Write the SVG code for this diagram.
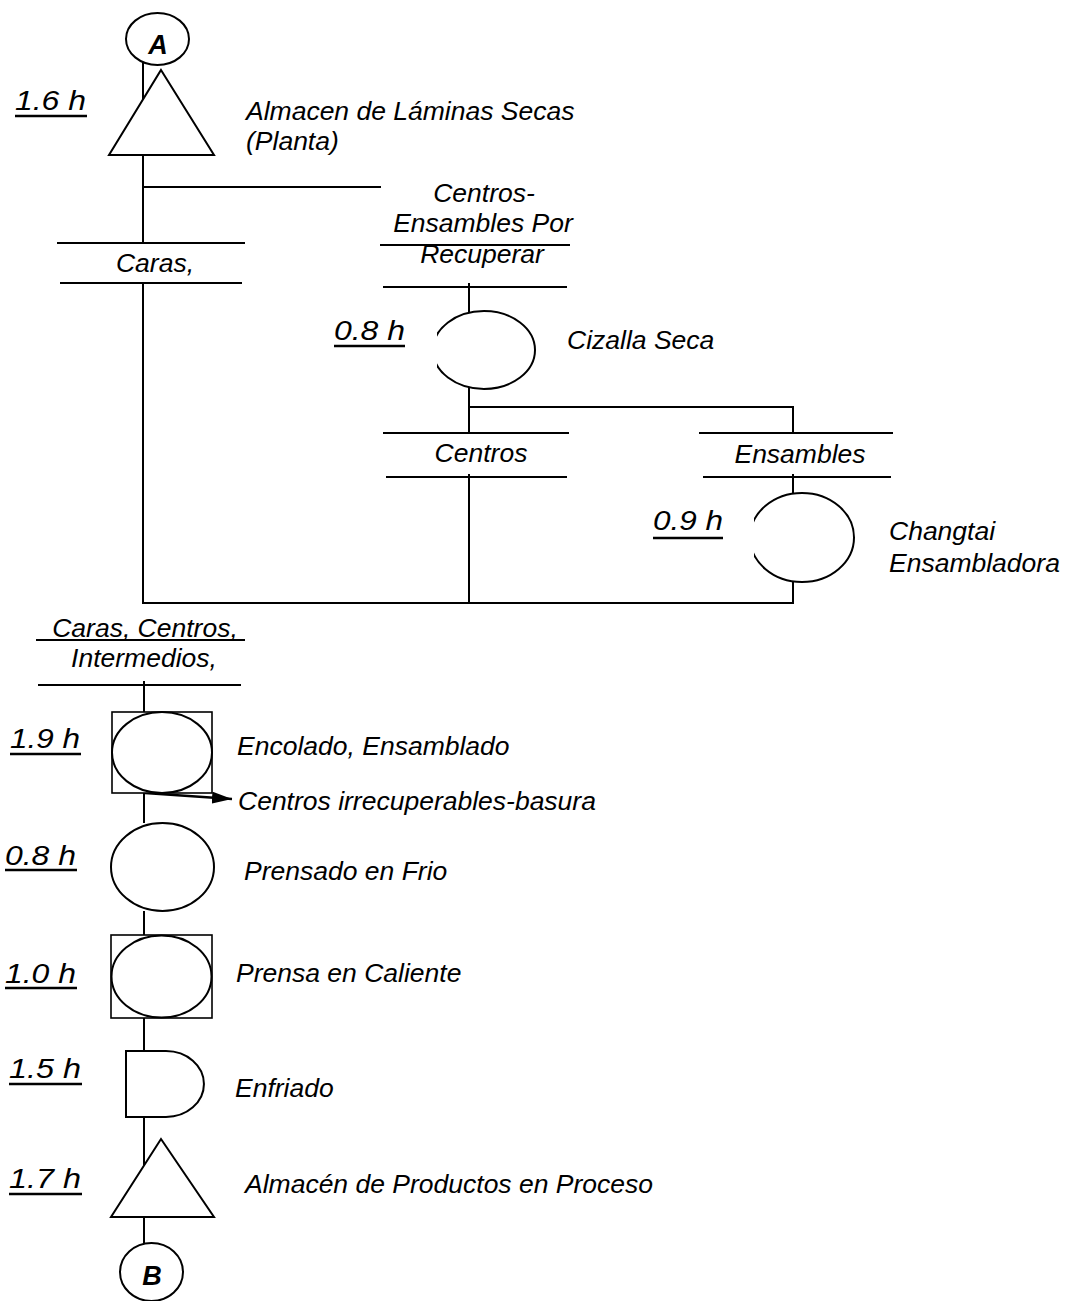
<svg xmlns="http://www.w3.org/2000/svg" width="1065" height="1301" viewBox="0 0 1065 1301">
<style>
.bg{fill:#fff}
.ln{stroke:#000;stroke-width:2;fill:none}
.sym{stroke:#000;stroke-width:2;fill:#fff}
.box{stroke:#000;stroke-width:1.6;fill:#fff}
.t{font-family:"Liberation Sans",Arial,sans-serif;font-style:italic;font-size:26.5px;fill:#000}
.c{text-anchor:middle}
.tm{font-family:"Liberation Sans",Arial,sans-serif;font-style:italic;font-size:28px;fill:#000}
.ul{stroke:#000;stroke-width:2.6}
.lt{font-family:"Liberation Sans",Arial,sans-serif;font-style:italic;font-weight:bold;font-size:27px;fill:#000;text-anchor:middle}
</style>
<defs>
<marker id="arr" markerUnits="userSpaceOnUse" markerWidth="20" markerHeight="12" refX="20" refY="6" viewBox="0 0 20 12" orient="auto">
<path d="M0,0 L20,6 L0,12 z" fill="#000"/>
</marker>
<clipPath id="clipCiz"><rect x="437" y="300" width="120" height="100"/></clipPath>
<clipPath id="clipCha"><rect x="754" y="480" width="120" height="110"/></clipPath>
</defs>
<rect class="bg" x="0" y="0" width="1065" height="1301"/>

<g id="connectors" class="ln">
<line x1="143" y1="62" x2="143" y2="99"/>
<line x1="143" y1="155" x2="143" y2="243"/>
<line x1="143" y1="187" x2="381" y2="187"/>
<line x1="143" y1="283" x2="143" y2="604"/>
<line x1="143" y1="603" x2="794" y2="603"/>
<line x1="469" y1="283" x2="469" y2="313"/>
<line x1="469" y1="387" x2="469" y2="433"/>
<line x1="468" y1="407" x2="794" y2="407"/>
<line x1="793" y1="406" x2="793" y2="433"/>
<line x1="469" y1="474" x2="469" y2="603"/>
<line x1="793" y1="474" x2="793" y2="494"/>
<line x1="793" y1="581" x2="793" y2="604"/>
<line x1="144" y1="681" x2="144" y2="712"/>
<line x1="144" y1="793" x2="144" y2="823"/>
<line x1="144" y1="911" x2="144" y2="935"/>
<line x1="144" y1="1018" x2="144" y2="1051"/>
<line x1="144" y1="1117" x2="144" y2="1165"/>
<line x1="144" y1="1217" x2="144" y2="1243"/>
<line x1="145" y1="793" x2="232" y2="799" stroke-width="2.4" marker-end="url(#arr)"/>
</g>

<g id="nodeA">
<ellipse class="sym" cx="157.5" cy="39" rx="31.5" ry="26"/>
<text class="lt" x="158" y="54">A</text>
</g>

<g id="almacenLaminas">
<polygon class="sym" points="161,70 214,155 109,155"/>
<text class="tm" x="15" y="110" textLength="71" lengthAdjust="spacingAndGlyphs">1.6 h</text>
<line class="ul" x1="15" y1="116" x2="87" y2="116"/>
<text class="t" x="246" y="120">Almacen de Láminas Secas</text>
<text class="t" x="246" y="150">(Planta)</text>
</g>

<g id="carasBar">
<line class="ln" x1="57" y1="243" x2="245" y2="243"/>
<line class="ln" x1="60" y1="283" x2="242" y2="283"/>
<text class="t c" x="155" y="272">Caras,</text>
</g>

<g id="centrosEnsamblesBar">
<text class="t c" x="484" y="202">Centros-</text>
<text class="t c" x="483" y="232">Ensambles Por</text>
<line class="ln" x1="380" y1="245" x2="570" y2="245"/>
<text class="t c" x="482" y="263">Recuperar</text>
<line class="ln" x1="383" y1="287" x2="567" y2="287"/>
</g>

<g id="cizallaSeca">
<ellipse class="sym" cx="484" cy="350" rx="51" ry="39" clip-path="url(#clipCiz)"/>
<text class="tm" x="334" y="340" textLength="71" lengthAdjust="spacingAndGlyphs">0.8 h</text>
<line class="ul" x1="334" y1="346" x2="405" y2="346"/>
<text class="t" x="567" y="349">Cizalla Seca</text>
</g>

<g id="centrosBar">
<line class="ln" x1="383" y1="433" x2="569" y2="433"/>
<line class="ln" x1="386" y1="477" x2="567" y2="477"/>
<text class="t c" x="481" y="462">Centros</text>
</g>

<g id="ensamblesBar">
<line class="ln" x1="699" y1="433" x2="893" y2="433"/>
<line class="ln" x1="703" y1="477" x2="891" y2="477"/>
<text class="t c" x="800" y="463">Ensambles</text>
</g>

<g id="changtai">
<ellipse class="sym" cx="802" cy="537.5" rx="52" ry="44.5" clip-path="url(#clipCha)"/>
<text class="tm" x="653" y="530" textLength="70" lengthAdjust="spacingAndGlyphs">0.9 h</text>
<line class="ul" x1="653" y1="538" x2="723" y2="538"/>
<text class="t" x="889" y="540">Changtai</text>
<text class="t" x="889" y="572">Ensambladora</text>
</g>

<g id="mezclaBar">
<text class="t c" x="145" y="637">Caras, Centros,</text>
<line class="ln" x1="36" y1="640" x2="245" y2="640"/>
<text class="t c" x="144" y="667">Intermedios,</text>
<line class="ln" x1="38" y1="685" x2="241" y2="685"/>
</g>

<g id="encolado">
<rect class="box" x="112" y="712" width="100" height="81"/>
<ellipse class="sym" cx="162" cy="752.5" rx="50" ry="40.5"/>
<text class="tm" x="10" y="748" textLength="70" lengthAdjust="spacingAndGlyphs">1.9 h</text>
<line class="ul" x1="10" y1="754" x2="81" y2="754"/>
<text class="t" x="237" y="755">Encolado, Ensamblado</text>
<text class="t" x="238" y="810">Centros irrecuperables-basura</text>
</g>

<g id="prensadoFrio">
<ellipse class="sym" cx="162.5" cy="867" rx="51.5" ry="44"/>
<text class="tm" x="5" y="865" textLength="71" lengthAdjust="spacingAndGlyphs">0.8 h</text>
<line class="ul" x1="5" y1="870" x2="77" y2="870"/>
<text class="t" x="244" y="880">Prensado en Frio</text>
</g>

<g id="prensaCaliente">
<rect class="box" x="111" y="935" width="101" height="83"/>
<ellipse class="sym" cx="161.5" cy="976.5" rx="50" ry="41"/>
<text class="tm" x="5" y="983" textLength="71" lengthAdjust="spacingAndGlyphs">1.0 h</text>
<line class="ul" x1="5" y1="988" x2="77" y2="988"/>
<text class="t" x="236" y="982">Prensa en Caliente</text>
</g>

<g id="enfriado">
<path class="sym" d="M126,1051 H166 A38,33 0 0 1 166,1117 H126 Z"/>
<text class="tm" x="9" y="1078" textLength="72" lengthAdjust="spacingAndGlyphs">1.5 h</text>
<line class="ul" x1="9" y1="1084" x2="82" y2="1084"/>
<text class="t" x="235" y="1097">Enfriado</text>
</g>

<g id="almacenProceso">
<polygon class="sym" points="161,1139 214,1217 111,1217"/>
<text class="tm" x="9" y="1188" textLength="72" lengthAdjust="spacingAndGlyphs">1.7 h</text>
<line class="ul" x1="9" y1="1194" x2="82" y2="1194"/>
<text class="t" x="245" y="1193">Almacén de Productos en Proceso</text>
</g>

<g id="nodeB">
<ellipse class="sym" cx="151.5" cy="1272" rx="31.5" ry="29"/>
<text class="lt" x="152" y="1285">B</text>
</g>
</svg>
